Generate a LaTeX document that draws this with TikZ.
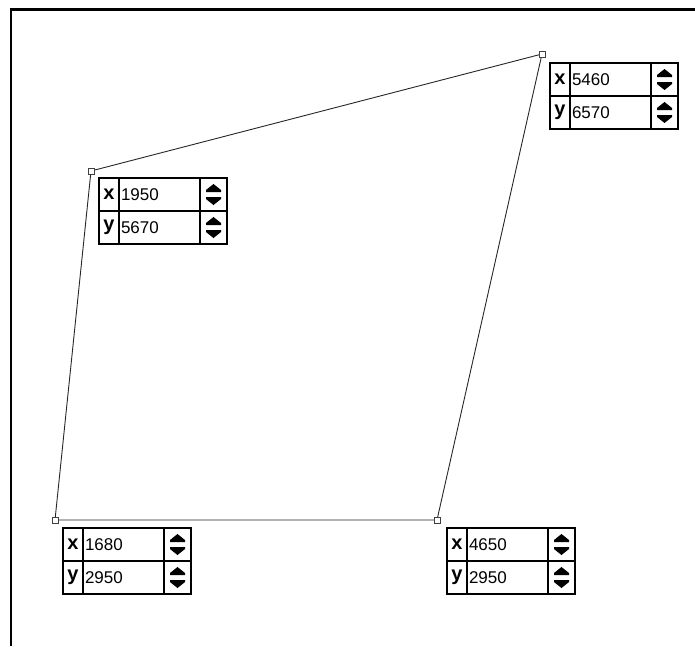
\documentclass[tikz,border=0pt]{standalone}
\usepackage{fontspec}
\setmainfont{Liberation Sans}
\usetikzlibrary{positioning}
\tikzset{
  vertex/.style={draw=black!75, line width=0.8pt, fill=white, minimum size=6pt, inner sep=0pt},
  edge/.style={draw=black!85, line width=0.9pt},
  cell/.style={draw, line width=1.2pt, minimum height=33pt, inner sep=0pt, outer sep=0pt},
  axiscell/.style={cell, minimum width=20pt, font=\bfseries\fontsize{20}{20}\selectfont},
  valuecell/.style={cell, minimum width=81pt, text width=77pt, align=left, font=\fontsize{17}{17}\selectfont},
  spincell/.style={cell, minimum width=27pt}
}
\newcommand\updown[1]{%
  \fill[shift={(#1.north)}] (0,6) -- (7.5,12) -- (7.5,14) -- (-7.5,14) -- (-7.5,12) -- cycle
    (-7.5,19) -- (7.5,19) -- (7.5,21) -- (0,27) -- (-7.5,21) -- cycle;}
\newcommand\spinbox[4]{%
  \node[axiscell, anchor=north west] (#1x) at #2 {x};
  \node[valuecell, right=0pt of #1x] (#1xv) {#3};
  \node[spincell, right=0pt of #1xv] (#1xs) {};
  \node[axiscell, below=0pt of #1x] (#1y) {y};
  \node[valuecell, right=0pt of #1y] (#1yv) {#4};
  \node[spincell, right=0pt of #1yv] (#1ys) {};
  \updown{#1xs}
  \updown{#1ys}}

\begin{document}
\begin{tikzpicture}[x=1pt, y=-1pt]
\useasboundingbox (0,0) rectangle (695,646);
\draw[line width=2.2pt] (11,646) -- (11,9.5) -- (695,9.5);

\coordinate (bl) at (55,520);
\coordinate (br) at (437,520);
\coordinate (tr) at (542,54);
\coordinate (tl) at (91,171);

\draw[edge] (bl) -- (br) -- (tr) -- (tl) -- cycle;

\node[vertex] (blmark) at (bl) {};
\node[vertex] (brmark) at (br) {};
\node[vertex] (trmark) at (tr) {};
\node[vertex] (tlmark) at (tl) {};

\spinbox{tr}{([shift={(8,9)}]tr)}{5460}{6570}
\spinbox{tl}{([shift={(8,7)}]tl)}{1950}{5670}
\spinbox{bl}{([shift={(8,8)}]bl)}{1680}{2950}
\spinbox{br}{([shift={(10,8)}]br)}{4650}{2950}
\end{tikzpicture}
\end{document}
